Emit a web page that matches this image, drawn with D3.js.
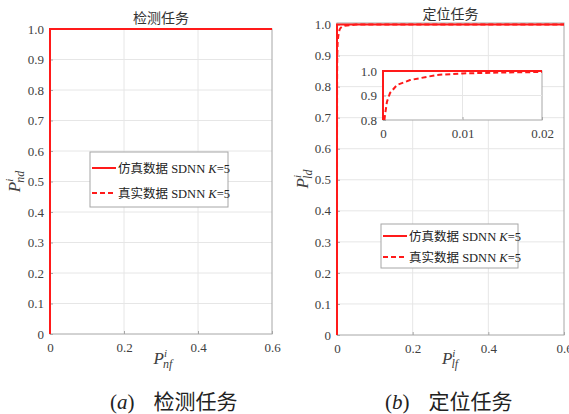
<!DOCTYPE html>
<html>
<head>
<meta charset="utf-8">
<script src="https://cdn.jsdelivr.net/npm/d3@7"></script>
<style>
  body { margin: 0; background: #fff; }
  text { font-family: "Liberation Serif", "DejaVu Serif", serif; }
</style>
</head>
<body>
<div id="container"></div>
<script>
// DATA ###############################
const xTicks = [0, 0.2, 0.4, 0.6];
const yTicks = [0, 0.1, 0.2, 0.3, 0.4, 0.5, 0.6, 0.7, 0.8, 0.9, 1.0];
const insetXTicks = [0, 0.01, 0.02];
const insetYTicks = [0.8, 0.9, 1.0];
const legendNames = ["仿真数据", "真实数据"];

// detection task: both curves hug the axes
const detSim = [[0, 0], [0, 1], [0.6, 1]];
const detReal = [[0, 0], [0, 1], [0.6, 1]];

// localisation task
const locSim = [[0, 0], [0, 1], [0.6, 1]];
const locReal = [[0, 0], [0.00005, 0.6], [0.00025, 0.82], [0.0005, 0.875], [0.00088, 0.91],
  [0.00176, 0.943], [0.0034, 0.963], [0.0068, 0.984], [0.01, 0.99], [0.015, 0.994],
  [0.02, 0.996], [0.05, 1.0], [0.6, 1.0]];

// CONSTANTS ###############################
const width = 569, height = 414;
const red = "#ff1a1a";

const svg = d3.select("#container").append("svg")
  .attr("width", width).attr("height", height);

function styleAxis(a) {
  a.select(".domain").remove();
  a.selectAll("line").attr("stroke", "#a6a6a6");
  a.selectAll("text").attr("fill", "#404040")
    .attr("font-family", "Liberation Serif").attr("font-size", 13);
}

// DRAW PANEL ###############################
function panel(o) {
  const x = d3.scaleLinear().domain([0, 0.6]).range([o.x0, o.x1]);
  const y = d3.scaleLinear().domain([0, o.yMax]).range([o.y1, o.y0]);
  const g = svg.append("g");

  // grid
  g.selectAll("line.gx").data(xTicks.slice(1, -1)).join("line")
    .attr("x1", d => x(d)).attr("x2", d => x(d))
    .attr("y1", o.y0).attr("y2", o.y1)
    .attr("stroke", "#e6e6e6");
  g.selectAll("line.gy").data(yTicks.slice(1)).join("line")
    .attr("x1", o.x0).attr("x2", o.x1)
    .attr("y1", d => y(d)).attr("y2", d => y(d))
    .attr("stroke", "#e6e6e6");

  // frame
  g.append("rect").attr("x", o.x0).attr("y", o.y0)
    .attr("width", o.x1 - o.x0).attr("height", o.y1 - o.y0)
    .attr("fill", "none").attr("stroke", "#a6a6a6");

  // axes
  const ax = g.append("g").attr("transform", `translate(0,${o.y1})`)
    .call(d3.axisBottom(x).tickValues(xTicks).tickSize(-3).tickPadding(9)
      .tickFormat(d => d === 0 ? "0" : d3.format(".1f")(d)));
  const ay = g.append("g").attr("transform", `translate(${o.x0},0)`)
    .call(d3.axisLeft(y).tickValues(yTicks).tickSize(-3).tickPadding(6)
      .tickFormat(d => d === 0 ? "0" : d3.format(".1f")(d)));
  styleAxis(ax);
  styleAxis(ay);

  // curves
  const line = d3.line().x(d => x(d[0])).y(d => y(d[1]));
  g.append("path").datum(o.sim).attr("d", line)
    .attr("fill", "none").attr("stroke", red).attr("stroke-width", 2);
  g.append("path").datum(o.real).attr("d", line)
    .attr("fill", "none").attr("stroke", red).attr("stroke-width", 2)
    .attr("stroke-dasharray", "5,3");

  // title
  g.append("text").attr("x", (o.x0 + o.x1) / 2).attr("y", o.ty)
    .attr("text-anchor", "middle").attr("fill", "#333")
    .style("font-family", "Noto Sans CJK SC").style("font-size", "14px")
    .text(o.title);

  // axis labels
  const lab = (gg, sub) => {
    gg.append("tspan").style("font-style", "italic").style("font-size", "17px").text("P");
    gg.append("tspan").style("font-style", "italic").style("font-size", "11px")
      .attr("dy", -7).text("i");
    gg.append("tspan").style("font-style", "italic").style("font-size", "12px")
      .attr("dx", -4).attr("dy", 11).text(sub);
  };
  const xl = g.append("text").attr("x", o.xlx).attr("y", 364)
    .attr("text-anchor", "middle").attr("fill", "#404040");
  lab(xl, o.xsub);
  const yl = g.append("text")
    .attr("transform", `translate(${o.ylx},${(o.y0 + o.y1) / 2}) rotate(-90)`)
    .attr("text-anchor", "middle").attr("fill", "#404040");
  lab(yl, o.ysub);

  // legend
  const lg = g.append("g").attr("transform", `translate(${o.lx},${o.ly})`);
  lg.append("rect").attr("width", o.lw).attr("height", o.lh)
    .attr("fill", "#fff").attr("stroke", "#a6a6a6");
  legendNames.forEach((name, i) => {
    const yy = o.lpad + i * o.lgap;
    lg.append("line").attr("x1", 2).attr("x2", 26).attr("y1", yy).attr("y2", yy)
      .attr("stroke", red).attr("stroke-width", 2)
      .attr("stroke-dasharray", i === 1 ? "5,3" : null);
    const t = lg.append("text").attr("x", 28).attr("y", yy + 4.5)
      .attr("fill", "#222").style("font-size", "12.5px");
    t.append("tspan").style("font-family", "Noto Sans CJK SC").text(name);
    t.append("tspan").text(" SDNN ");
    t.append("tspan").style("font-style", "italic").text("K");
    t.append("tspan").text("=5");
  });

  // caption
  const cap = svg.append("text").attr("x", o.capx).attr("y", 409)
    .attr("fill", "#222").style("font-size", "21px");
  cap.append("tspan").text("(");
  cap.append("tspan").style("font-style", "italic").text(o.letter);
  cap.append("tspan").text(")");
  cap.append("tspan").attr("dx", 19).style("font-family", "Noto Sans CJK SC")
    .text(o.title);

  return g;
}

panel({
  x0: 50, x1: 272, y0: 29, y1: 334, yMax: 1.0, ty: 23,
  sim: detSim, real: detReal, title: "检测任务",
  xsub: "nf", ysub: "nd", xlx: 163, ylx: 20,
  lx: 90, ly: 152, lw: 138, lh: 55, lpad: 16, lgap: 25,
  capx: 110, letter: "a"
});

panel({
  x0: 337, x1: 564, y0: 23, y1: 335, yMax: 1.005, ty: 19,
  sim: locSim, real: locReal, title: "定位任务",
  xsub: "lf", ysub: "ld", xlx: 450, ylx: 308,
  lx: 381, ly: 224, lw: 137, lh: 44, lpad: 12, lgap: 21,
  capx: 385, letter: "b"
});

// INSET ###############################
const ix = d3.scaleLinear().domain([0, 0.02]).range([383, 542]);
const iy = d3.scaleLinear().domain([0.8, 1.0]).range([120, 71]);
const ig = svg.append("g");
ig.append("rect").attr("x", 383).attr("y", 71).attr("width", 159).attr("height", 49)
  .attr("fill", "#fff").attr("stroke", "#a6a6a6");
ig.append("line").attr("x1", ix(0.01)).attr("x2", ix(0.01)).attr("y1", 71).attr("y2", 120)
  .attr("stroke", "#e6e6e6");
ig.append("line").attr("x1", 383).attr("x2", 542).attr("y1", iy(0.9)).attr("y2", iy(0.9))
  .attr("stroke", "#e6e6e6");
const iax = ig.append("g").attr("transform", "translate(0,120)")
  .call(d3.axisBottom(ix).tickValues(insetXTicks).tickSize(-3).tickPadding(9)
    .tickFormat(d => d === 0 ? "0" : d3.format(".2f")(d)));
const iay = ig.append("g").attr("transform", "translate(383,0)")
  .call(d3.axisLeft(iy).tickValues(insetYTicks).tickSize(-3).tickPadding(6)
    .tickFormat(d3.format(".1f")));
styleAxis(iax);
styleAxis(iay);
const iline = d3.line().x(d => ix(d[0])).y(d => iy(d[1]));
const clip = locReal.filter(d => d[1] >= 0.8 && d[0] <= 0.02);
ig.append("path").datum([[0, 0.8], [0, 1], [0.02, 1]]).attr("d", iline)
  .attr("fill", "none").attr("stroke", red).attr("stroke-width", 2);
ig.append("path").datum([[0.00018, 0.8]].concat(clip)).attr("d", iline)
  .attr("fill", "none").attr("stroke", red).attr("stroke-width", 2)
  .attr("stroke-dasharray", "5,3");
</script>
</body>
</html>
